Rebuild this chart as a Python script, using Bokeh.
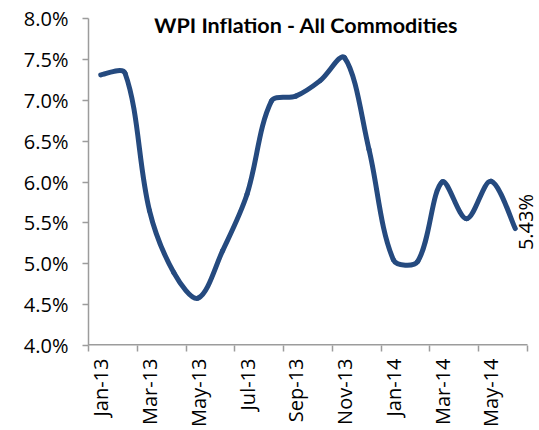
from bokeh.plotting import figure
from bokeh.models import Range1d, FixedTicker, PrintfTickFormatter, Label
from bokeh.embed import file_html
from bokeh.resources import INLINE
import math

# ---- data ----
months = ["Jan-13", "Feb-13", "Mar-13", "Apr-13", "May-13", "Jun-13",
          "Jul-13", "Aug-13", "Sep-13", "Oct-13", "Nov-13", "Dec-13",
          "Jan-14", "Feb-14", "Mar-14", "Apr-14", "May-14", "Jun-14"]
wpi = [7.31, 7.33, 5.65, 4.89, 4.58, 5.16,
       5.85, 6.99, 7.05, 7.24, 7.52, 6.40,
       5.05, 5.03, 6.00, 5.55, 6.01, 5.43]
y_ticks = [4.0, 4.5, 5.0, 5.5, 6.0, 6.5, 7.0, 7.5, 8.0]
x_label_months = months[::2]
title_text = "WPI Inflation - All Commodities"
last_label = "5.43%"

LINE = "#254A7F"
AXIS = "#9C9C9C"
FONT = "Open Sans"

n = len(months)
xs = [i + 0.5 for i in range(n)]

# layout: frame spans 451px, of which the category axis uses 439px
W, H = 539, 430
BL, BR, BT, BB = 88, 0, 18, 85
frame_w = W - BL - BR
axis_w = 439
x_end = n * frame_w / axis_w
px_x = axis_w / n
px_y = (H - BT - BB) / (y_ticks[-1] - y_ticks[0])

p = figure(width=W, height=H, output_backend="svg", toolbar_location=None,
           x_range=Range1d(0, x_end), y_range=Range1d(y_ticks[0], y_ticks[-1]),
           min_border_left=BL, min_border_right=BR, min_border_top=BT,
           min_border_bottom=BB)
p.outline_line_color = None
p.xgrid.visible = False
p.ygrid.visible = False
p.background_fill_color = "white"
p.border_fill_color = "white"

# smooth line: Bezier segments with length-weighted tangents (Excel-like smoothing)
def seglen(i, j):
    return math.hypot((xs[j] - xs[i]) * px_x, (wpi[j] - wpi[i]) * px_y)

x0s, y0s, x1s, y1s, cx0, cy0, cx1, cy1 = [], [], [], [], [], [], [], []
for i in range(n - 1):
    a, b, c, d = max(i - 1, 0), i, i + 1, min(i + 2, n - 1)
    lbc = seglen(b, c)
    if a == b:
        f1 = 1.0 / 3.0
        tx, ty = (xs[c] - xs[b]) * 0.5, (wpi[c] - wpi[b]) * 0.5
    else:
        lab = seglen(a, b)
        f1 = (lbc / (lab + lbc)) / 3.0
        tx, ty = xs[c] - xs[a], wpi[c] - wpi[a]
    if c == d:
        f2 = 1.0 / 3.0
        ux, uy = (xs[c] - xs[b]) * 0.5, (wpi[c] - wpi[b]) * 0.5
    else:
        lcd = seglen(c, d)
        f2 = (lbc / (lbc + lcd)) / 3.0
        ux, uy = xs[d] - xs[b], wpi[d] - wpi[b]
    x0s.append(xs[b]); y0s.append(wpi[b])
    x1s.append(xs[c]); y1s.append(wpi[c])
    cx0.append(xs[b] + tx * f1); cy0.append(wpi[b] + ty * f1)
    cx1.append(xs[c] - ux * f2); cy1.append(wpi[c] - uy * f2)

p.bezier(x0=x0s, y0=y0s, x1=x1s, y1=y1s, cx0=cx0, cy0=cy0, cx1=cx1, cy1=cy1,
         line_color=LINE, line_width=5, line_cap="round")

# x baseline only as long as the category axis
p.segment(x0=[0], y0=[y_ticks[0]], x1=[n], y1=[y_ticks[0]],
          line_color=AXIS, line_width=3)

# y axis
ya = p.yaxis[0]
ya.ticker = FixedTicker(ticks=y_ticks)
ya.formatter = PrintfTickFormatter(format="%.1f%%")
ya.axis_line_color = AXIS
ya.axis_line_width = 1.5
ya.major_tick_line_color = AXIS
ya.major_tick_line_width = 1.5
ya.major_tick_out = 6
ya.major_tick_in = 0
ya.minor_tick_line_color = None
ya.major_label_text_font = FONT
ya.major_label_text_font_size = "20px"
ya.major_label_text_color = "black"
ya.major_label_standoff = 14

# x axis: labels at every other month centre, ticks at 2-month boundaries
xa = p.xaxis[0]
label_pos = xs[::2]
xa.ticker = FixedTicker(ticks=label_pos, minor_ticks=list(range(0, n + 1, 2)))
xa.major_label_overrides = {pos: lab for pos, lab in zip(label_pos, x_label_months)}
xa.major_label_orientation = math.pi / 2
xa.axis_line_color = None
xa.major_tick_line_color = None
xa.major_tick_out = 6
xa.minor_tick_line_color = AXIS
xa.minor_tick_line_width = 1.5
xa.minor_tick_out = 6
xa.minor_tick_in = 0
xa.major_label_text_font = FONT
xa.major_label_text_font_size = "20px"
xa.major_label_text_color = "black"
xa.major_label_standoff = 7

# title inside the plot area
p.add_layout(Label(x=8.92, y=7.92, text=title_text, text_font="Lato",
                   text_font_size="21.5px", text_font_style="bold",
                   text_align="center", text_baseline="middle",
                   text_color="black"))

# data label for the last point
p.add_layout(Label(x=xs[-1] + 0.42, y=wpi[-1] + 0.08, text=last_label,
                   angle=math.pi / 2, text_font=FONT,
                   text_font_size="20px", text_align="center",
                   text_baseline="middle", text_color="black"))

open("out.html", "w").write(file_html(p, INLINE))
